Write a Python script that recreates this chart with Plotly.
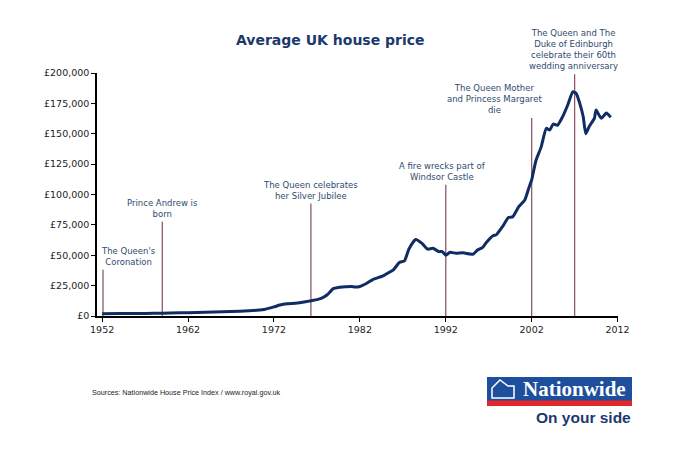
import plotly.graph_objects as go

# ---------------- data ----------------
years = [1952.0, 1954.0, 1956.0, 1958.0, 1960.0, 1962.0, 1964.0, 1966.0, 1968.0, 1970.0,
         1971.0, 1972.0, 1972.7, 1973.5, 1974.5, 1975.5, 1976.3, 1977.0, 1977.5, 1978.2,
         1978.9, 1979.5, 1980.3, 1981.0, 1981.5, 1982.0, 1982.8, 1983.5, 1984.7, 1985.3,
         1985.9, 1986.6, 1987.2, 1987.7, 1988.5, 1989.2, 1989.9, 1990.5, 1991.2, 1991.6,
         1992.0, 1992.5, 1993.2, 1994.0, 1994.8, 1995.2, 1995.7, 1996.3, 1996.7, 1997.5,
         1997.9, 1998.6, 1999.3, 1999.8, 2000.5, 2001.2, 2001.7, 2002.0, 2002.5, 2003.1,
         2003.7, 2004.1, 2004.5, 2005.0, 2005.6, 2006.2, 2006.8, 2007.2, 2007.6, 2008.0,
         2008.3, 2008.7, 2009.3, 2009.5, 2010.1, 2010.7, 2011.2]
prices = [1900, 2000, 2100, 2200, 2500, 2700, 3100, 3600, 4000, 4800,
          5600, 7500, 9000, 10000, 10500, 11500, 12600, 13500, 14500, 17500,
          22500, 23500, 24000, 24300, 23800, 24300, 27000, 30000, 33000, 35500,
          38000, 44000, 45500, 55000, 63000, 60000, 55000, 55700, 53000, 53000,
          50000, 52400, 51600, 52000, 51000, 51000, 54300, 56500, 60300, 66000,
          67000, 73500, 81000, 81700, 90000, 95500, 106000, 112000, 128000, 139000,
          154500, 153000, 158000, 157000, 164000, 173700, 184600, 183000, 175000, 164000,
          150000, 156000, 162700, 169500, 162700, 167000, 163500]

event_years = [1952.1, 1959.0, 1976.3, 1992.0, 2002.0, 2007.0]
event_tops = [38000, 77500, 92500, 108000, 163000, 199000]
event_labels = [
    "The Queen's<br>Coronation",
    "Prince Andrew is<br>born",
    "The Queen celebrates<br>her Silver Jubilee",
    "A fire wrecks part of<br>Windsor Castle",
    "The Queen Mother<br>and Princess Margaret<br>die",
    "The Queen and The<br>Duke of Edinburgh<br>celebrate their 60th<br>wedding anniversary",
]
label_xshift = [25, 0, 0, -3, -37, -1]

x_ticks = [1952, 1962, 1972, 1982, 1992, 2002, 2012]
y_ticks = [0, 25000, 50000, 75000, 100000, 125000, 150000, 175000, 200000]
y_tick_text = ["£0", "£25,000", "£50,000", "£75,000", "£100,000", "£125,000",
               "£150,000", "£175,000", "£200,000"]

title_text = "Average UK house price"
source_text = "Sources: Nationwide House Price Index / www.royal.gov.uk"

# ---------------- layout helpers ----------------
OFF = 8  # default page body margin
W, H = 682, 443
L, R, T, B = 89, 72, 65, 135
PW, PH = W - L - R, H - T - B


def px(x):
    """page pixel x -> paper x"""
    return (x - OFF - L) / PW


def py(y):
    """page pixel y -> paper y"""
    return (H - B - (y - OFF)) / PH


FONT = "DejaVu Sans, Verdana, sans-serif"
NAVY = "#0f2d62"
EVENT_COL = "#8d5a6c"
LABEL_COL = "#2f4b6e"

fig = go.Figure()

for ey, et in zip(event_years, event_tops):
    fig.add_trace(go.Scatter(x=[ey, ey], y=[0, et], mode="lines",
                             line=dict(color=EVENT_COL, width=1.3),
                             hoverinfo="skip", showlegend=False))

fig.add_trace(go.Scatter(x=years, y=prices, mode="lines",
                         line=dict(color=NAVY, width=3, shape="spline", smoothing=0.5),
                         showlegend=False))

for ey, et, lab, xs in zip(event_years, event_tops, event_labels, label_xshift):
    fig.add_annotation(x=ey, y=et, xref="x", yref="y", text=lab, showarrow=False,
                       xanchor="center", yanchor="bottom", xshift=xs, yshift=1,
                       font=dict(family=FONT, size=8.5, color=LABEL_COL), align="center")

fig.add_annotation(x=px(330), y=py(40), xref="paper", yref="paper", text="<b>" + title_text + "</b>",
                   showarrow=False, xanchor="center", yanchor="middle",
                   font=dict(family=FONT, size=14, color="#1b3a6b"))

fig.add_annotation(x=px(90), y=py(392), xref="paper", yref="paper", text=source_text,
                   showarrow=False, xanchor="left", yanchor="middle",
                   font=dict(family="Liberation Sans, Arial, sans-serif", size=7.2, color="#222222"))

# Nationwide logo
fig.add_shape(type="rect", xref="paper", yref="paper",
              x0=px(487), x1=px(632), y0=py(401), y1=py(377),
              fillcolor="#1d4f9c", line=dict(width=0), layer="above")
fig.add_shape(type="rect", xref="paper", yref="paper",
              x0=px(487), x1=px(632), y0=py(406), y1=py(400.5),
              fillcolor="#e3262a", line=dict(width=0), layer="above")
fig.add_shape(type="path", xref="paper", yref="paper",
              path=(f"M {px(492)},{py(398)} L {px(492)},{py(388)} L {px(500)},{py(380)} "
                    f"L {px(508)},{py(386)} L {px(514)},{py(386)} L {px(514)},{py(398)} Z"),
              fillcolor="rgba(0,0,0,0)", line=dict(color="white", width=1.5), layer="above")
fig.add_annotation(x=px(628), y=py(389), xref="paper", yref="paper", text="<b>Nationwide</b>",
                   showarrow=False, xanchor="right", yanchor="middle",
                   font=dict(family="Liberation Serif, Times New Roman, serif", size=21, color="white"))
fig.add_annotation(x=px(633), y=py(417), xref="paper", yref="paper", text="<b>On your side</b>",
                   showarrow=False, xanchor="right", yanchor="middle",
                   font=dict(family="Liberation Sans, Arial, sans-serif",
                             size=15.5, color="#1a3a6e"))

fig.update_layout(
    width=W, height=H,
    margin=dict(l=L, r=R, t=T, b=B),
    paper_bgcolor="white", plot_bgcolor="white",
    xaxis=dict(range=[1951.4, 2012.05], tickvals=x_ticks, ticks="outside", ticklen=4,
               tickcolor="#000", showline=True, linecolor="#000", linewidth=1.5,
               showgrid=False, zeroline=False,
               tickfont=dict(family=FONT, size=9.5, color="#222")),
    yaxis=dict(range=[0, 200000], tickvals=y_ticks, ticktext=y_tick_text, ticks="outside",
               ticklen=4, tickcolor="#000", showline=True, linecolor="#000", linewidth=1.5,
               showgrid=False, zeroline=False,
               tickfont=dict(family=FONT, size=9.5, color="#222")),
)

fig.write_html("out.html")
